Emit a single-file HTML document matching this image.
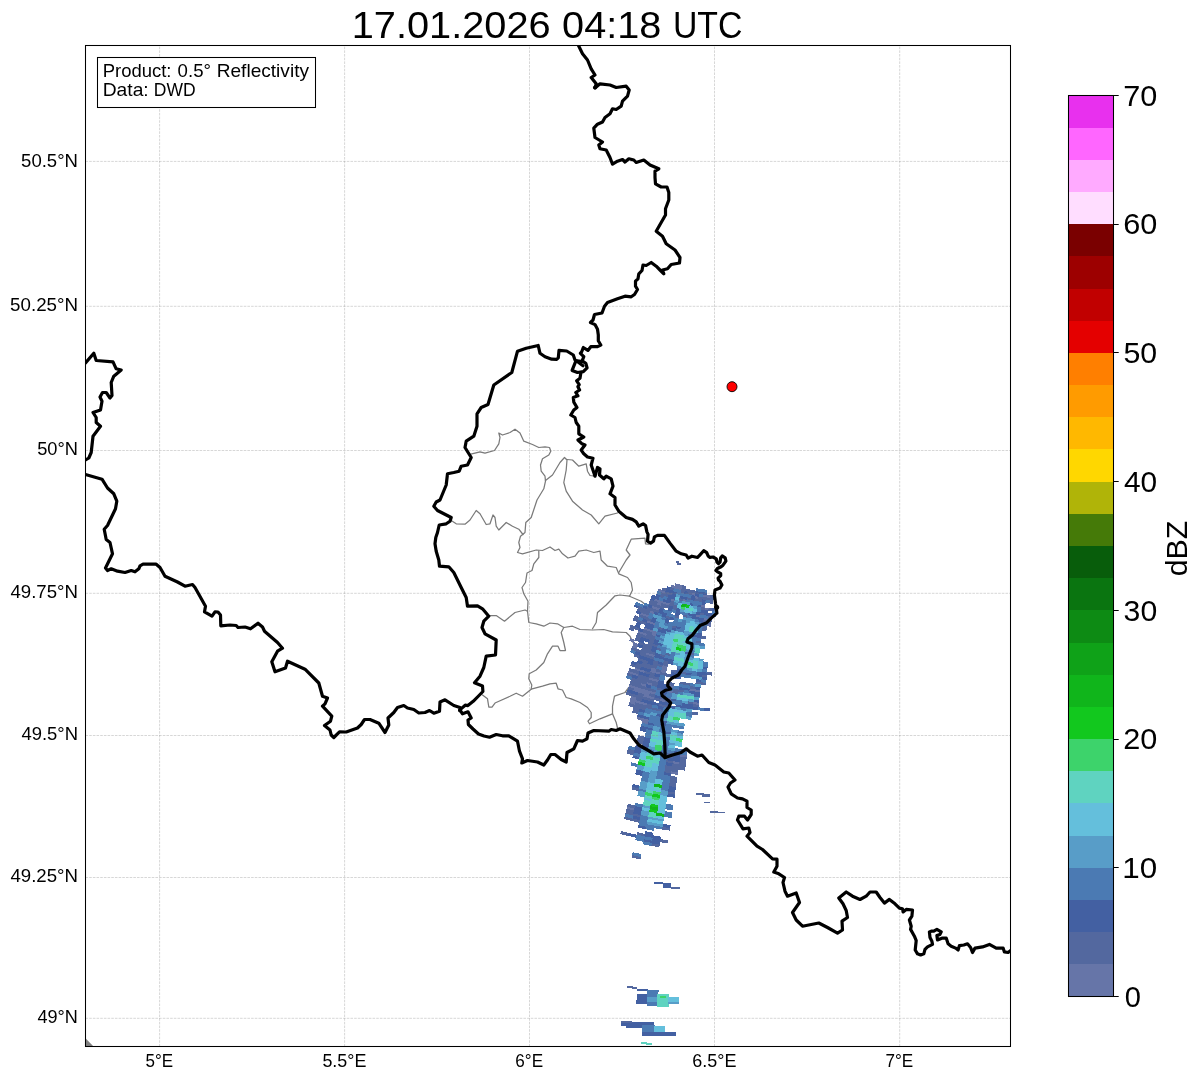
<!DOCTYPE html>
<html><head><meta charset="utf-8"><title>Radar</title>
<style>html,body{margin:0;padding:0;background:#fff;overflow:hidden}svg{display:block;will-change:transform}text{font-family:"Liberation Sans",sans-serif;fill:#000}</style>
</head><body>
<svg width="1202" height="1081" viewBox="0 0 1202 1081">
<rect x="0" y="0" width="1202" height="1081" fill="#fff"/>
<defs><clipPath id="ax"><rect x="85.5" y="45.5" width="925.0" height="1001.0"/></clipPath></defs>
<g clip-path="url(#ax)">
<g fill="none" stroke="#7a7a7a" stroke-width="1.25" stroke-linejoin="round" stroke-linecap="round">
<path d="M470.8,454.2 480.0,451.8 485.0,453.2 494.5,450.5 498.8,443.8 500.0,437.5 498.8,433.0 502.5,435.0 510.0,432.5 515.0,429.2 520.0,433.0 523.8,441.2 532.5,444.5 538.8,447.5 545.0,446.8 549.5,447.5 550.8,451.2 548.8,455.0 542.5,458.8 540.5,465.0 541.2,471.2 545.0,476.2 545.5,481.2 543.8,488.8 537.0,500.0 531.2,517.5 525.8,522.5 525.0,532.5 520.5,536.2 518.8,542.5 520.0,547.5 517.5,552.5 522.5,553.8 536.2,550.0 542.5,550.5 550.0,547.0 555.0,550.5 558.8,549.2 562.5,553.8 568.0,558.0 575.0,556.2 578.8,551.2 586.2,550.0 593.8,552.5 600.0,551.2 601.2,560.0 607.5,566.2 616.2,567.5 618.8,573.8 627.5,577.5 631.2,582.5 632.5,590.0 629.5,596.2 620.0,595.0 615.0,595.8 606.2,605.0 597.5,612.5 596.2,622.5 592.5,628.8"/>
<path d="M629.5,596.2 641.2,601.2 647.5,606.2 651.0,611.0"/>
<path d="M545.5,480.5 552.5,475.0 560.0,462.5 564.5,457.5 567.0,460.0 566.2,470.0 563.8,482.5 566.2,491.2 572.5,501.2 582.5,510.0 591.2,515.0 598.8,523.8 605.0,516.2 617.5,513.0"/>
<path d="M567.0,459.5 572.5,460.0 578.8,466.2 586.2,463.8 587.5,471.2 590.0,475.5 595.0,476.2"/>
<path d="M451.2,520.5 456.2,523.8 465.0,524.2 470.0,520.0 476.2,510.5 480.0,513.8 486.2,524.5 490.0,523.8 493.0,515.0 495.0,517.5 496.2,526.2 498.8,530.0 506.2,522.5 512.5,526.2 518.8,529.2 523.0,534.5"/>
<path d="M618.8,572.5 626.2,560.0 630.0,555.0 626.2,550.0 631.2,539.2 645.0,538.2 645.5,543.8 648.8,544.2"/>
<path d="M538.8,550.8 538.8,557.5 533.8,563.8 532.0,570.5 527.0,573.0 525.5,582.5 522.0,587.5 523.8,593.8 528.0,601.2 527.5,611.2 528.8,622.5 536.2,623.8 543.8,626.2 550.0,623.0 557.5,623.8 563.8,627.5 572.5,626.2 580.0,629.5 592.5,630.0 603.8,629.5 612.5,631.8 626.2,632.5 630.0,636.2 633.0,642.5"/>
<path d="M488.8,615.5 496.2,615.5 504.5,621.2 515.0,612.5 525.0,610.0 527.5,611.2"/>
<path d="M563.8,627.5 561.2,632.5 563.8,642.5 565.5,650.5 560.0,650.5 558.0,646.2 552.5,646.2 547.5,653.8 543.8,662.5 536.2,670.0 529.2,673.8 528.8,678.8 531.8,685.0 531.2,689.2"/>
<path d="M482.5,695.0 487.5,698.8 488.8,707.0 492.0,707.0 495.0,703.0 510.0,696.2 516.2,693.2 522.5,696.2 531.2,689.2 542.5,686.2 550.0,683.8 556.2,683.2 558.0,688.8 562.5,690.0 566.2,697.5 571.2,698.8 580.0,702.5 587.5,707.5 591.2,712.5 591.2,717.5 588.0,721.2 589.5,723.8 600.0,718.8 612.5,713.8"/>
<path d="M617.5,728.0 616.2,722.5 612.5,713.8 612.5,706.2 614.5,696.2 625.0,692.5 628.8,687.5"/>
</g>
<path d="M85.5,1038.3 L93.3,1046.2 L85.5,1046.2Z" fill="#808080"/>
<g shape-rendering="crispEdges">
<path fill="#6675a8" d="M711.9 618.6L707.5 618.2L707.2 621.2L711.6 621.6ZM711.4 623.7L707.0 623.3L706.7 626.3L711.1 626.7ZM710.2 595.3L706.3 594.8L705.9 597.9L709.9 598.3ZM708.9 608.0L704.8 607.5L704.4 610.6L708.6 611.1ZM707.8 618.2L703.5 617.7L703.1 620.7L707.5 621.2ZM700.4 689.5L694.7 688.8L694.3 691.9L700.0 692.5ZM699.0 702.2L693.2 701.6L692.8 704.6L698.7 705.3ZM706.6 594.9L702.7 594.4L702.3 597.4L706.2 597.9ZM705.3 605.0L701.3 604.5L700.8 607.5L705.0 608.1ZM695.1 688.9L689.5 688.2L689.0 691.2L694.7 691.9ZM687.0 755.0L680.2 754.1L679.7 757.1L686.6 758.0ZM700.1 614.7L695.9 614.0L695.4 617.1L699.7 617.7ZM679.5 761.7L672.5 760.7L672.1 763.7L679.1 764.8ZM678.1 771.9L670.9 770.8L670.5 773.8L677.7 774.9ZM698.9 596.4L695.0 595.7L694.5 598.7L698.4 599.4ZM695.7 593.3L691.9 592.5L691.3 595.5L695.2 596.3ZM674.1 685.6L668.5 684.5L667.9 687.4L673.5 688.6ZM673.1 690.6L667.5 689.5L666.8 692.5L672.5 693.6ZM671.7 698.1L665.9 697.0L665.2 700.0L671.1 701.2ZM686.9 599.4L683.0 598.5L682.3 601.5L686.3 602.4ZM665.7 699.6L659.9 698.3L659.2 701.2L665.1 702.5ZM667.7 665.9L662.5 664.7L660.5 672.6L665.9 673.9ZM635.0 808.1L627.1 806.2L626.4 809.2L634.3 811.1ZM682.6 585.3L678.9 584.3L677.5 589.7L681.3 590.7ZM661.0 672.2L655.7 670.8L654.9 673.8L660.3 675.2ZM659.2 679.7L653.7 678.2L652.9 681.2L658.4 682.6ZM656.1 692.1L650.4 690.6L649.6 693.6L655.3 695.0ZM654.8 697.0L649.1 695.6L648.3 698.5L654.1 700.0ZM649.3 719.4L643.1 717.8L641.6 723.2L647.9 724.9ZM679.2 584.4L675.5 583.3L673.9 588.7L677.7 589.8ZM675.2 599.2L671.3 598.1L670.4 601.0L674.4 602.2ZM656.7 668.4L651.5 667.0L649.9 672.4L655.2 673.9ZM654.1 678.3L648.6 676.8L647.8 679.8L653.3 681.3ZM652.7 683.3L647.2 681.8L646.4 684.7L651.9 686.2ZM650.8 690.7L645.1 689.1L642.8 697.0L648.6 698.6ZM647.4 703.1L641.6 701.4L640.7 704.4L646.7 706.0ZM643.5 717.9L637.3 716.2L636.5 719.1L642.7 720.9ZM675.0 585.9L671.3 584.8L670.4 587.7L674.2 588.8ZM670.1 603.1L666.1 601.9L665.2 604.8L669.3 606.0ZM655.3 654.8L650.3 653.3L649.4 656.2L654.5 657.7ZM646.9 684.3L641.3 682.7L640.4 685.6L646.0 687.3ZM645.5 689.2L639.8 687.6L638.2 693.0L643.9 694.6ZM641.9 701.6L636.1 699.8L635.2 702.7L641.1 704.5ZM666.3 602.0L662.3 600.7L661.4 603.6L665.4 604.9ZM657.4 631.4L652.8 629.9L651.1 635.3L655.7 636.7ZM650.6 653.4L645.7 651.8L644.7 654.8L649.8 656.3ZM645.4 670.5L640.1 668.9L639.2 671.8L644.5 673.5ZM640.2 687.7L634.6 685.9L632.9 691.3L638.6 693.1ZM637.2 697.5L631.4 695.7L628.9 703.4L634.8 705.3ZM665.7 591.1L661.9 589.8L661.0 592.7L664.8 594.0ZM662.6 600.8L658.6 599.5L656.8 604.8L660.9 606.2ZM660.2 608.1L656.1 606.7L655.1 609.6L659.3 611.0ZM655.5 622.7L651.1 621.3L650.1 624.1L654.5 625.6ZM653.1 630.0L648.6 628.5L647.6 631.4L652.2 632.9ZM640.5 669.0L635.2 667.2L634.2 670.1L639.5 671.9ZM638.9 673.9L633.6 672.1L632.6 675.0L638.0 676.8ZM635.0 686.0L629.4 684.2L628.4 687.1L634.0 688.9ZM662.2 589.9L658.4 588.5L657.4 591.4L661.2 592.8ZM658.9 599.6L654.9 598.2L653.9 601.0L657.9 602.5ZM656.4 606.8L652.3 605.4L651.2 608.3L655.4 609.7ZM654.7 611.7L650.5 610.2L649.5 613.1L653.7 614.6ZM651.4 621.4L647.0 619.8L646.0 622.7L650.4 624.2ZM648.9 628.6L644.4 627.0L643.3 629.9L647.9 631.5ZM647.2 633.5L642.6 631.8L641.6 634.7L646.2 636.4ZM633.9 672.2L628.6 670.3L627.5 673.2L632.9 675.1ZM649.0 615.1L644.8 613.5L643.7 616.4L648.0 618.0ZM642.9 631.9L638.4 630.2L637.3 633.1L641.9 634.8ZM638.6 644.0L633.8 642.2L631.8 647.4L636.6 649.3ZM645.1 613.6L640.9 612.0L639.7 614.8L644.0 616.5ZM635.0 639.9L630.3 638.1L629.1 640.9L633.9 642.8Z"/>
<path fill="#53689f" d="M712.2 672.5L706.9 672.1L706.6 675.2L712.0 675.6ZM713.9 595.6L710.0 595.3L709.1 603.4L713.1 603.8ZM712.7 608.4L708.6 608.0L708.3 611.0L712.5 611.4ZM712.1 616.0L707.8 615.6L707.5 618.7L711.8 619.1ZM711.6 621.1L707.3 620.7L706.9 623.8L711.4 624.2ZM707.0 674.7L701.6 674.2L701.3 677.2L706.7 677.7ZM706.3 682.3L700.8 681.8L700.5 684.9L706.1 685.4ZM709.9 597.8L706.0 597.4L705.6 600.4L709.6 600.9ZM707.5 620.7L703.2 620.2L702.8 623.3L707.2 623.8ZM707.0 625.8L702.6 625.3L701.9 630.9L706.4 631.4ZM706.0 636.0L701.3 635.5L700.9 638.5L705.6 639.1ZM701.2 681.9L695.7 681.2L695.3 684.3L700.8 684.9ZM698.8 704.8L692.8 704.1L692.5 707.1L698.4 707.8ZM698.0 712.4L691.9 711.7L691.5 714.8L697.7 715.5ZM706.3 597.4L702.3 596.9L701.9 599.9L705.9 600.5ZM705.0 607.6L700.9 607.0L700.5 610.1L704.6 610.6ZM704.4 612.7L700.2 612.1L699.8 615.1L704.0 615.7ZM701.0 640.6L696.3 640.0L695.8 643.0L700.6 643.6ZM695.4 686.4L689.8 685.6L689.4 688.6L695.0 689.4ZM693.5 701.6L687.7 700.8L687.2 703.9L693.2 704.6ZM687.6 749.9L680.9 749.0L680.4 752.0L687.3 752.9ZM686.7 757.5L679.8 756.6L677.9 769.8L685.1 770.7ZM702.6 596.9L698.7 596.3L697.8 601.9L701.8 602.5ZM694.8 652.7L689.8 652.0L689.3 655.0L694.4 655.7ZM690.5 683.1L685.0 682.3L684.5 685.3L690.1 686.2ZM679.2 764.3L672.1 763.2L670.9 771.3L678.0 772.4ZM677.4 776.9L670.1 775.9L668.4 786.5L675.9 787.6ZM675.3 792.2L667.7 791.0L667.2 794.0L674.8 795.2ZM670.3 827.6L662.1 826.4L661.6 829.4L669.9 830.7ZM668.5 840.3L660.1 839.1L659.6 842.1L668.1 843.4ZM698.5 598.9L694.6 598.3L694.0 601.3L698.0 601.9ZM687.0 672.2L681.6 671.4L681.1 674.4L686.5 675.3ZM685.4 682.4L679.9 681.4L679.3 684.5L684.9 685.4ZM684.2 689.9L678.5 689.0L678.0 692.0L683.7 693.0ZM674.2 753.2L667.4 752.0L666.4 757.6L673.3 758.7ZM673.0 760.8L666.0 759.6L665.5 762.6L672.5 763.8ZM672.2 765.8L665.1 764.6L663.7 772.7L670.9 773.9ZM659.8 844.2L651.3 842.8L650.8 845.8L659.4 847.2ZM696.2 590.7L692.4 590.0L691.8 593.0L695.6 593.7ZM678.9 689.1L673.3 688.0L672.2 693.5L677.9 694.6ZM692.6 590.1L688.8 589.3L687.6 594.8L691.5 595.6ZM691.1 597.6L687.2 596.8L686.6 599.8L690.6 600.6ZM687.7 615.2L683.5 614.3L682.8 617.3L687.2 618.2ZM677.0 670.5L671.7 669.4L671.1 672.4L676.4 673.5ZM674.6 683.1L669.1 681.9L668.4 684.9L674.0 686.1ZM671.2 700.7L665.3 699.5L664.7 702.5L670.6 703.7ZM670.2 705.7L664.3 704.5L663.6 707.5L669.6 708.7ZM645.4 833.9L637.0 832.2L636.4 835.2L644.8 836.9ZM641.0 856.5L632.2 854.7L631.6 857.7L640.4 859.5ZM689.1 589.4L685.3 588.5L684.6 591.5L688.4 592.4ZM671.0 674.5L665.7 673.3L665.0 676.3L670.4 677.5ZM666.8 694.5L661.0 693.3L659.8 698.7L665.6 700.0ZM664.6 704.6L658.7 703.2L658.0 706.2L664.0 707.6ZM663.6 709.6L657.6 708.2L656.9 711.2L663.0 712.6ZM641.3 814.8L633.3 813.0L632.6 816.0L640.7 817.7ZM640.2 819.8L632.2 818.0L631.5 821.0L639.6 822.8ZM686.1 586.1L682.4 585.2L680.4 593.1L684.3 594.1ZM683.2 598.6L679.3 597.6L678.5 600.6L682.5 601.5ZM679.2 616.0L674.9 615.0L674.2 618.0L678.5 619.0ZM676.9 626.0L672.5 624.9L671.7 627.9L676.2 629.0ZM670.6 653.4L665.6 652.3L664.9 655.2L669.9 656.4ZM668.9 660.9L663.8 659.7L662.4 665.2L667.6 666.4ZM666.0 673.4L660.7 672.1L659.9 675.1L665.3 676.4ZM662.6 688.4L656.9 687.0L656.2 690.0L661.9 691.4ZM660.3 698.3L654.5 697.0L653.7 699.9L659.6 701.3ZM658.0 708.3L652.0 706.9L651.2 709.9L657.3 711.3ZM639.6 788.2L632.1 786.4L631.4 789.3L638.9 791.1ZM635.6 805.6L627.8 803.7L627.0 806.7L634.9 808.6ZM634.4 810.6L626.5 808.7L625.2 814.2L633.2 816.1ZM632.7 818.1L624.7 816.2L623.9 819.1L632.0 821.1ZM629.2 833.1L620.9 831.1L620.2 834.0L628.6 836.0ZM677.7 605.1L673.6 604.1L672.2 609.5L676.3 610.6ZM665.3 654.8L660.3 653.5L659.6 656.5L664.6 657.8ZM662.9 664.8L657.7 663.4L656.9 666.4L662.1 667.7ZM661.6 669.7L656.4 668.4L655.6 671.3L660.9 672.7ZM659.8 677.2L654.4 675.8L653.6 678.7L659.0 680.1ZM658.5 682.1L653.0 680.7L651.6 686.1L657.2 687.6ZM656.7 689.6L651.0 688.1L650.3 691.1L655.9 692.6ZM655.4 694.6L649.7 693.1L648.9 696.0L654.7 697.5ZM654.2 699.5L648.4 698.0L647.6 701.0L653.5 702.5ZM653.0 704.5L647.1 703.0L645.6 708.4L651.6 710.0ZM644.9 736.8L638.4 735.1L636.3 743.0L643.0 744.7ZM674.5 601.7L670.6 600.6L669.0 606.0L673.1 607.1ZM670.6 616.5L666.3 615.3L665.5 618.3L669.8 619.5ZM662.0 648.7L657.1 647.3L656.3 650.3L661.2 651.6ZM658.7 661.0L653.6 659.6L651.3 667.5L656.6 668.9ZM655.4 673.4L650.0 671.9L648.5 677.3L653.9 678.8ZM653.4 680.8L647.9 679.3L647.1 682.2L652.6 683.8ZM651.4 688.2L645.8 686.7L645.0 689.6L650.6 691.2ZM648.8 698.1L643.0 696.5L642.1 699.5L648.0 701.1ZM646.8 705.5L640.9 703.9L639.3 709.3L645.3 711.0ZM634.9 750.1L628.1 748.2L626.6 753.6L633.4 755.5ZM674.3 588.3L670.6 587.2L669.7 590.1L673.5 591.3ZM672.9 593.3L669.1 592.1L668.2 595.0L672.1 596.2ZM669.4 605.6L665.3 604.4L664.4 607.3L668.6 608.5ZM663.1 627.7L658.6 626.4L657.7 629.3L662.2 630.7ZM658.1 644.9L653.3 643.5L652.4 646.4L657.3 647.9ZM656.0 652.3L651.1 650.9L650.2 653.8L655.2 655.3ZM654.6 657.2L649.6 655.8L648.7 658.7L653.8 660.2ZM652.5 664.6L647.3 663.1L645.7 668.5L651.0 670.0ZM650.4 672.0L645.1 670.4L644.2 673.4L649.5 675.0ZM649.0 676.9L643.6 675.3L641.2 683.2L646.7 684.8ZM646.2 686.8L640.6 685.1L639.7 688.1L645.3 689.7ZM644.0 694.2L638.3 692.5L635.9 700.3L641.8 702.0ZM641.2 704.0L635.3 702.3L632.2 712.5L638.3 714.3ZM669.3 592.2L665.5 591.0L663.8 596.3L667.7 597.6ZM665.6 604.4L661.5 603.2L659.8 608.5L663.9 609.8ZM655.9 636.3L651.2 634.8L645.5 652.3L650.5 653.9ZM649.9 655.9L644.9 654.3L644.0 657.2L649.0 658.8ZM648.4 660.8L643.3 659.1L640.8 666.9L646.0 668.6ZM643.9 675.4L638.6 673.8L634.4 686.4L640.0 688.2ZM638.0 695.0L632.2 693.2L631.3 696.1L637.1 698.0ZM635.0 704.8L629.0 703.0L628.1 705.9L634.1 707.8ZM666.5 588.6L662.8 587.4L661.8 590.3L665.6 591.5ZM665.0 593.5L661.1 592.2L659.3 597.5L663.2 598.8ZM661.0 605.7L656.9 604.3L655.9 607.2L660.1 608.6ZM659.4 610.5L655.3 609.2L654.3 612.0L658.5 613.5ZM652.3 632.5L647.8 630.9L645.1 638.7L649.8 640.2ZM648.4 644.6L643.6 643.0L639.2 655.6L644.3 657.3ZM643.6 659.3L638.6 657.6L637.6 660.4L642.7 662.2ZM642.1 664.1L636.9 662.4L635.1 667.7L640.3 669.5ZM639.7 671.4L634.4 669.7L633.4 672.5L638.7 674.3ZM637.3 678.7L631.9 676.9L629.2 684.6L634.8 686.5ZM634.2 688.5L628.6 686.6L627.6 689.5L633.2 691.4ZM632.6 693.3L626.9 691.4L625.9 694.3L631.6 696.3ZM658.0 602.0L654.0 600.6L652.1 605.8L656.2 607.3ZM655.5 609.2L651.4 607.8L650.4 610.7L654.5 612.1ZM652.2 618.9L647.9 617.4L646.8 620.3L651.2 621.8ZM648.0 631.0L643.5 629.4L642.5 632.3L647.1 633.9ZM646.4 635.9L641.8 634.2L640.7 637.1L645.4 638.8ZM643.9 643.1L639.1 641.5L638.1 644.3L642.9 646.0ZM641.4 650.4L636.5 648.7L635.4 651.5L640.4 653.3ZM639.7 655.2L634.7 653.5L633.7 656.4L638.7 658.1ZM636.4 664.9L631.2 663.1L630.2 666.0L635.4 667.8ZM634.7 669.8L629.5 667.9L628.4 670.8L633.7 672.7ZM633.1 674.6L627.7 672.7L626.7 675.6L632.1 677.5ZM654.3 600.7L650.3 599.2L648.3 604.4L652.4 605.9ZM651.7 607.9L647.6 606.3L644.6 614.0L648.9 615.6ZM648.2 617.5L643.9 615.9L642.8 618.8L647.1 620.4ZM646.4 622.3L642.0 620.7L640.9 623.5L645.4 625.2ZM642.1 634.3L637.4 632.6L634.5 640.3L639.3 642.0ZM636.8 648.8L631.9 647.0L630.8 649.8L635.8 651.7ZM646.9 608.8L642.8 607.2L640.7 612.4L644.9 614.1ZM644.2 616.0L639.9 614.3L638.7 617.2L643.1 618.9ZM642.3 620.8L638.0 619.1L636.8 621.9L641.2 623.6ZM639.6 628.0L635.1 626.2L633.9 629.0L638.5 630.8ZM643.0 607.3L638.9 605.6L636.7 610.8L640.9 612.5ZM639.2 616.8L634.9 615.0L632.7 620.2L637.1 622.0ZM635.4 626.3L630.9 624.5L628.7 629.6L633.3 631.5Z"/>
<path fill="#4360a2" d="M716.6 608.7L712.5 608.4L712.2 611.4L716.4 611.7ZM709.7 708.3L703.7 707.8L703.4 710.9L709.5 711.3ZM712.3 613.5L708.1 613.1L707.8 616.1L712.0 616.5ZM707.6 667.0L702.4 666.5L702.1 669.6L707.4 670.1ZM707.2 672.1L701.9 671.6L701.6 674.7L706.9 675.2ZM706.8 677.2L701.3 676.7L701.0 679.8L706.5 680.3ZM708.6 610.6L704.4 610.1L703.8 615.7L708.0 616.2ZM702.2 671.7L696.9 671.1L696.2 676.6L701.6 677.3ZM701.4 679.3L696.0 678.7L695.6 681.7L701.1 682.4ZM700.6 686.9L695.0 686.3L694.7 689.3L700.3 690.0ZM700.1 692.0L694.4 691.4L693.7 697.0L699.5 697.6ZM699.3 699.7L693.5 699.0L693.1 702.0L699.0 702.7ZM698.5 707.3L692.5 706.6L692.2 709.7L698.2 710.4ZM706.9 592.3L703.1 591.8L702.6 594.9L706.5 595.4ZM706.0 600.0L702.0 599.4L701.2 605.0L705.3 605.5ZM704.7 610.1L700.5 609.6L700.1 612.6L704.3 613.2ZM703.8 617.7L699.5 617.2L698.7 622.7L703.1 623.3ZM701.9 633.0L697.3 632.4L696.5 637.9L701.2 638.6ZM694.8 691.4L689.1 690.7L688.7 693.7L694.4 694.5ZM693.2 704.1L687.3 703.4L686.5 708.9L692.5 709.7ZM703.3 591.9L699.5 591.3L699.0 594.3L702.9 594.9ZM701.5 604.5L697.5 603.9L697.0 607.0L701.1 607.6ZM700.5 612.1L696.3 611.5L695.8 614.5L700.0 615.2ZM699.8 617.2L695.5 616.6L695.0 619.6L699.3 620.2ZM697.3 635.0L692.6 634.3L692.2 637.3L696.8 638.0ZM691.9 673.0L686.6 672.2L686.1 675.2L691.5 676.0ZM689.8 688.2L684.2 687.4L683.7 690.4L689.4 691.2ZM687.7 703.4L681.8 702.5L680.9 708.1L686.9 709.0ZM680.9 751.6L674.2 750.6L672.5 761.2L679.5 762.2ZM676.0 787.1L668.5 786.0L667.6 791.5L675.2 792.6ZM674.9 794.7L667.3 793.5L666.8 796.6L674.5 797.7ZM670.7 825.1L662.5 823.9L662.0 826.9L670.2 828.1ZM699.7 591.3L695.9 590.7L694.9 596.2L698.8 596.9ZM696.1 614.1L691.9 613.4L690.9 618.9L695.3 619.6ZM690.1 652.0L685.2 651.2L684.7 654.2L689.7 655.0ZM684.6 687.4L679.0 686.5L678.4 689.5L684.1 690.4ZM681.8 705.1L675.8 704.1L675.3 707.1L681.3 708.1ZM673.4 758.2L666.5 757.1L665.9 760.1L672.9 761.2ZM672.6 763.3L665.6 762.1L665.0 765.1L672.1 766.3ZM671.0 773.4L663.8 772.2L663.3 775.2L670.5 776.4ZM661.0 836.6L652.6 835.2L651.2 843.3L659.8 844.7ZM695.3 595.8L691.4 595.1L690.3 600.6L694.3 601.3ZM693.9 603.3L689.9 602.6L689.3 605.6L693.4 606.4ZM692.2 613.4L687.9 612.6L687.4 615.6L691.6 616.4ZM682.4 668.9L677.2 667.9L675.1 678.5L680.6 679.5ZM677.1 699.2L671.3 698.1L670.7 701.1L676.6 702.2ZM675.8 706.7L669.8 705.6L669.2 708.6L675.2 709.7ZM671.3 731.9L664.9 730.7L664.3 733.7L670.8 734.9ZM667.8 752.1L661.0 750.8L660.4 753.8L667.3 755.1ZM653.6 832.8L645.3 831.2L644.2 836.8L652.7 838.3ZM652.3 840.4L643.9 838.8L643.3 841.8L651.8 843.4ZM676.5 673.0L671.2 671.9L670.0 677.4L675.5 678.5ZM670.7 703.2L664.8 702.0L664.2 705.0L670.1 706.2ZM667.3 720.8L661.1 719.5L659.9 725.0L666.2 726.3ZM646.8 826.3L638.6 824.7L638.0 827.7L646.2 829.3ZM688.5 591.9L684.7 591.0L684.0 594.0L687.9 594.9ZM687.5 596.9L683.6 596.0L682.9 599.0L686.8 599.9ZM681.1 626.9L676.6 625.9L675.9 628.9L680.5 629.9ZM674.2 659.5L669.1 658.4L667.9 663.8L673.0 665.0ZM668.9 684.5L663.3 683.3L660.9 693.8L666.7 695.0ZM665.2 702.1L659.3 700.8L658.6 703.7L664.5 705.1ZM664.1 707.1L658.2 705.7L657.5 708.7L663.5 710.1ZM662.5 714.6L656.4 713.2L655.7 716.2L661.9 717.6ZM642.9 807.2L635.1 805.5L633.2 813.5L641.2 815.2ZM640.8 817.3L632.7 815.5L632.1 818.5L640.1 820.3ZM637.0 834.8L628.7 832.9L628.0 835.9L636.4 837.8ZM683.8 596.1L679.9 595.1L679.2 598.1L683.1 599.0ZM680.9 608.5L676.8 607.5L674.8 615.5L679.1 616.5ZM676.3 628.5L671.8 627.4L671.1 630.4L675.7 631.5ZM669.4 658.4L664.4 657.2L663.7 660.2L668.8 661.4ZM664.3 680.9L658.8 679.6L656.8 687.5L662.4 688.9ZM660.8 695.9L655.1 694.5L654.3 697.4L660.1 698.8ZM659.1 703.3L653.2 701.9L652.5 704.9L658.4 706.3ZM654.5 723.3L648.3 721.8L647.5 724.8L653.8 726.3ZM653.4 728.3L647.0 726.8L646.3 729.7L652.7 731.3ZM651.1 738.3L644.5 736.7L641.3 749.6L648.1 751.2ZM643.6 770.7L636.5 769.0L635.1 774.4L642.3 776.2ZM640.2 785.7L632.7 783.9L632.0 786.8L639.5 788.6ZM674.6 617.5L670.3 616.4L669.5 619.4L673.9 620.5ZM671.5 630.0L667.0 628.8L666.2 631.8L670.8 632.9ZM664.7 657.3L659.7 656.0L658.9 659.0L664.0 660.3ZM663.5 662.3L658.4 660.9L657.6 663.9L662.7 665.2ZM660.4 674.7L655.0 673.3L654.2 676.3L659.7 677.7ZM653.6 702.0L647.7 700.5L646.9 703.5L652.9 705.0ZM649.9 716.9L643.7 715.3L643.0 718.3L649.2 719.9ZM647.4 726.9L641.1 725.2L639.6 730.7L646.1 732.3ZM642.5 746.7L635.8 745.0L633.7 752.9L640.5 754.7ZM640.0 756.7L633.1 754.9L632.3 757.8L639.3 759.6ZM677.2 591.8L673.4 590.7L671.1 598.6L675.1 599.7ZM673.2 606.6L669.1 605.5L667.6 610.9L671.8 612.0ZM669.9 619.0L665.6 617.8L664.0 623.2L668.5 624.4ZM667.3 628.9L662.8 627.6L661.2 633.0L665.8 634.3ZM663.3 643.7L658.5 642.4L657.7 645.3L662.5 646.7ZM660.7 653.6L655.7 652.2L654.1 657.6L659.2 659.0ZM652.1 685.8L646.5 684.2L645.7 687.2L651.3 688.7ZM648.1 700.6L642.3 699.0L641.4 701.9L647.3 703.6ZM645.5 710.5L639.4 708.8L638.6 711.8L644.7 713.4ZM644.1 715.4L638.0 713.7L637.2 716.7L643.3 718.4ZM673.6 590.8L669.8 589.7L668.9 592.6L672.8 593.7ZM672.2 595.7L668.3 594.6L665.9 602.4L670.0 603.6ZM667.3 612.9L663.1 611.7L661.4 617.1L665.7 618.3ZM662.4 630.2L657.8 628.8L656.9 631.8L661.5 633.1ZM660.9 635.1L656.3 633.7L655.4 636.7L660.1 638.0ZM659.5 640.0L654.8 638.6L653.2 644.0L658.0 645.4ZM657.4 647.4L652.6 646.0L650.9 651.3L655.9 652.8ZM653.9 659.7L648.8 658.2L647.2 663.6L652.4 665.1ZM651.1 669.6L645.8 668.0L644.9 670.9L650.2 672.5ZM649.7 674.5L644.3 672.9L643.4 675.8L648.8 677.4ZM670.8 587.3L667.1 586.1L665.3 591.5L669.2 592.7ZM667.1 599.5L663.1 598.3L662.2 601.2L666.2 602.5ZM664.1 609.3L660.0 608.0L658.2 613.4L662.5 614.7ZM649.2 658.3L644.1 656.7L643.2 659.6L648.3 661.2ZM646.2 668.1L640.9 666.4L640.0 669.4L645.3 671.0ZM644.7 673.0L639.3 671.3L638.4 674.2L643.8 675.9ZM638.7 692.6L633.0 690.8L632.1 693.7L637.8 695.5ZM658.6 613.0L654.4 611.6L653.4 614.5L657.7 615.9ZM657.1 617.9L652.8 616.4L650.9 621.7L655.3 623.2ZM654.7 625.2L650.3 623.7L648.4 629.0L653.0 630.5ZM650.0 639.8L645.3 638.2L644.3 641.1L649.0 642.7ZM644.4 656.8L639.4 655.1L638.4 658.0L643.5 659.7ZM642.8 661.7L637.7 660.0L636.7 662.9L641.9 664.6ZM638.1 676.3L632.7 674.5L631.7 677.4L637.2 679.2ZM633.4 690.9L627.7 689.0L626.7 691.9L632.4 693.8ZM660.5 594.7L656.7 593.4L654.7 598.6L658.7 600.0ZM650.5 623.8L646.1 622.2L644.2 627.5L648.7 629.1ZM645.6 638.3L640.9 636.6L639.0 641.9L643.7 643.6ZM643.1 645.6L638.2 643.9L637.2 646.7L642.1 648.5ZM640.6 652.8L635.6 651.1L634.6 653.9L639.6 655.7ZM637.2 662.5L632.1 660.7L631.1 663.6L636.2 665.4ZM656.0 595.8L652.1 594.4L650.1 599.6L654.1 601.1ZM652.5 605.5L648.5 604.0L647.4 606.8L651.5 608.3ZM647.3 619.9L643.0 618.3L641.9 621.1L646.3 622.8ZM643.8 629.5L639.3 627.8L638.2 630.7L642.8 632.4ZM647.8 606.4L643.7 604.8L642.6 607.7L646.7 609.3ZM641.4 623.2L637.0 621.4L634.9 626.7L639.4 628.4ZM641.1 612.1L636.9 610.3L635.7 613.1L640.0 614.9ZM639.2 605.7L635.1 604.0L633.9 606.8L638.0 608.5Z"/>
<path fill="#4b7ab3" d="M716.4 611.2L712.3 610.9L711.8 616.5L716.0 616.8ZM708.1 661.9L703.0 661.4L702.4 667.0L707.6 667.5ZM707.4 669.6L702.2 669.1L701.8 672.1L707.2 672.6ZM706.5 679.8L701.1 679.3L700.8 682.3L706.3 682.8ZM704.1 707.9L698.1 707.3L697.8 710.3L703.8 710.9ZM709.7 600.4L705.7 599.9L705.3 603.0L709.4 603.4ZM708.1 615.7L703.8 615.2L703.4 618.2L707.8 618.7ZM707.3 623.3L702.9 622.8L702.5 625.8L707.0 626.3ZM705.2 643.7L700.4 643.1L700.0 646.2L704.8 646.7ZM707.2 589.8L703.4 589.3L703.0 592.3L706.8 592.8ZM704.1 615.2L699.8 614.6L699.4 617.7L703.7 618.2ZM703.2 622.8L698.8 622.2L697.3 632.9L701.9 633.5ZM701.3 638.1L696.6 637.5L696.2 640.5L700.9 641.1ZM700.7 643.2L695.9 642.5L695.5 645.6L700.3 646.2ZM697.3 671.1L692.0 670.4L691.2 676.0L696.6 676.7ZM695.7 683.8L690.2 683.1L689.7 686.1L695.3 686.8ZM692.3 711.8L686.2 711.0L685.5 716.5L691.6 717.3ZM687.3 752.4L680.5 751.5L680.1 754.6L687.0 755.5ZM703.7 589.3L699.9 588.8L699.4 591.8L703.2 592.4ZM702.9 594.4L699.1 593.8L698.6 596.8L702.5 597.4ZM701.9 602.0L697.9 601.4L697.4 604.4L701.5 605.0ZM701.2 607.1L697.1 606.5L696.2 612.0L700.4 612.6ZM699.4 619.7L695.1 619.1L694.6 622.1L699.0 622.8ZM697.6 632.4L693.0 631.7L692.6 634.8L697.2 635.5ZM696.9 637.5L692.2 636.8L691.0 644.9L695.8 645.6ZM695.1 650.2L690.2 649.4L689.8 652.5L694.7 653.2ZM694.4 655.2L689.4 654.5L688.9 657.5L694.0 658.3ZM692.3 670.5L687.0 669.7L686.5 672.7L691.9 673.5ZM691.6 675.5L686.2 674.7L685.7 677.7L691.2 678.6ZM690.2 685.7L684.6 684.8L684.1 687.9L689.7 688.7ZM689.5 690.7L683.8 689.9L683.3 692.9L689.0 693.8ZM687.0 708.5L681.0 707.6L680.5 710.6L686.6 711.5ZM684.5 726.2L678.2 725.3L677.7 728.3L684.1 729.3ZM683.8 731.3L677.4 730.3L676.9 733.4L683.4 734.3ZM681.3 749.1L674.6 748.0L674.1 751.1L680.9 752.1ZM673.5 804.8L665.7 803.7L664.8 809.2L672.7 810.4ZM672.4 812.4L664.5 811.2L663.6 816.8L671.7 818.0ZM700.1 588.8L696.4 588.2L695.8 591.2L699.6 591.8ZM698.1 601.4L694.1 600.8L693.1 606.3L697.3 607.0ZM692.9 634.3L688.3 633.5L687.8 636.6L692.5 637.3ZM687.8 667.2L682.5 666.3L681.6 671.9L686.9 672.7ZM686.6 674.8L681.2 673.9L680.7 676.9L686.1 677.8ZM685.0 684.9L679.4 684.0L678.9 687.0L684.5 687.9ZM683.8 692.5L678.1 691.5L677.5 694.5L683.3 695.5ZM682.6 700.1L676.7 699.1L675.8 704.6L681.7 705.6ZM678.6 725.4L672.3 724.3L671.7 727.3L678.1 728.4ZM674.6 750.6L667.8 749.5L667.3 752.5L674.1 753.7ZM670.6 775.9L663.4 774.7L660.6 790.3L668.1 791.6ZM662.6 826.5L654.4 825.1L653.9 828.1L662.1 829.5ZM694.4 600.8L690.4 600.1L689.8 603.1L693.9 603.8ZM691.7 615.9L687.5 615.2L686.9 618.2L691.2 619.0ZM682.9 666.4L677.7 665.4L677.1 668.4L682.3 669.4ZM679.3 686.5L673.7 685.5L673.2 688.5L678.8 689.6ZM676.7 701.7L670.8 700.6L670.2 703.6L676.1 704.7ZM672.7 724.4L666.4 723.2L664.8 731.2L671.3 732.4ZM670.5 737.0L663.9 735.8L660.9 751.3L667.7 752.6ZM667.4 754.6L660.5 753.4L655.5 779.0L662.8 780.3ZM655.0 825.2L646.8 823.7L645.7 829.2L654.0 830.8ZM652.7 837.8L644.3 836.3L643.8 839.3L652.2 840.8ZM651.9 842.9L643.4 841.3L642.8 844.3L651.3 845.9ZM691.6 595.1L687.8 594.3L687.1 597.3L691.0 598.1ZM690.7 600.1L686.7 599.3L686.0 602.3L690.1 603.1ZM688.2 612.7L684.0 611.8L683.4 614.8L687.6 615.7ZM686.8 620.2L682.4 619.4L679.6 632.4L684.2 633.3ZM673.6 688.1L668.0 687.0L667.4 689.9L673.0 691.1ZM672.6 693.1L666.9 692.0L665.8 697.5L671.6 698.6ZM669.7 708.2L663.7 707.0L661.5 717.5L667.7 718.7ZM666.3 725.8L660.0 724.5L658.3 732.5L664.8 733.8ZM648.8 816.3L640.8 814.6L638.5 825.1L646.7 826.8ZM644.9 836.4L636.5 834.7L635.3 840.2L643.8 841.9ZM641.5 854.0L632.8 852.2L632.1 855.2L640.9 857.0ZM688.0 594.4L684.1 593.5L683.4 596.5L687.4 597.4ZM684.3 611.9L680.1 611.0L679.4 614.0L683.6 614.9ZM682.2 621.9L677.8 620.9L676.5 626.4L681.0 627.4ZM680.6 629.4L676.1 628.4L675.4 631.4L679.9 632.4ZM675.8 652.0L670.9 650.9L669.0 658.8L674.1 660.0ZM663.1 712.1L657.0 710.7L656.3 713.7L662.4 715.1ZM662.0 717.1L655.8 715.7L653.4 726.2L659.8 727.6ZM655.1 749.6L648.3 748.1L647.6 751.1L654.5 752.6ZM650.3 772.2L643.1 770.6L640.7 781.1L648.1 782.7ZM646.6 789.7L639.1 788.0L638.4 791.0L646.0 792.7ZM643.4 804.7L635.6 803.0L634.9 806.0L642.8 807.7ZM684.4 593.6L680.5 592.6L679.8 595.6L683.7 596.6ZM682.7 601.1L678.7 600.1L677.9 603.1L682.0 604.0ZM678.6 618.5L674.3 617.5L672.3 625.4L676.8 626.5ZM670.0 655.9L665.0 654.7L664.3 657.7L669.3 658.9ZM665.4 675.9L660.0 674.6L658.7 680.1L664.2 681.4ZM662.0 690.9L656.3 689.5L655.0 695.0L660.7 696.3ZM658.5 705.8L652.6 704.4L651.9 707.4L657.8 708.8ZM657.4 710.8L651.4 709.4L650.6 712.3L656.7 713.8ZM656.2 715.8L650.1 714.3L648.1 722.3L654.4 723.8ZM653.9 725.8L647.6 724.3L646.9 727.2L653.3 728.8ZM652.8 730.8L646.4 729.2L644.4 737.2L651.0 738.8ZM633.3 815.6L625.3 813.7L624.5 816.7L632.6 818.6ZM681.4 590.2L677.6 589.2L676.2 594.7L680.0 595.7ZM678.3 602.6L674.3 601.6L673.5 604.6L677.6 605.6ZM676.5 610.1L672.3 609.0L671.5 612.0L675.7 613.1ZM675.2 615.1L671.0 614.0L670.2 616.9L674.5 618.0ZM673.4 622.5L669.0 621.4L666.9 629.3L671.4 630.5ZM667.2 647.4L662.3 646.1L660.2 654.0L665.2 655.3ZM664.1 659.8L659.0 658.5L658.2 661.4L663.4 662.8ZM662.2 667.2L657.0 665.9L656.2 668.8L661.5 670.2ZM657.3 687.1L651.7 685.7L650.9 688.6L656.6 690.1ZM651.7 709.5L645.7 707.9L644.3 713.3L650.4 714.9ZM648.0 724.4L641.8 722.8L641.0 725.7L647.3 727.3ZM640.6 754.2L633.8 752.4L633.0 755.4L639.9 757.2ZM638.2 764.1L631.1 762.3L630.3 765.3L637.4 767.1ZM677.9 589.3L674.1 588.3L673.2 591.2L677.1 592.3ZM671.9 611.6L667.7 610.4L666.2 615.8L670.5 617.0ZM668.6 623.9L664.2 622.7L663.3 625.6L667.8 626.9ZM666.0 633.8L661.4 632.6L660.5 635.5L665.2 636.8ZM664.6 638.8L659.9 637.5L659.1 640.4L663.8 641.7ZM662.6 646.2L657.8 644.9L657.0 647.8L661.9 649.1ZM659.3 658.6L654.3 657.2L653.4 660.1L658.6 661.5ZM644.8 713.0L638.7 711.3L637.9 714.2L644.0 715.9ZM635.5 747.6L628.8 745.7L628.0 748.7L634.8 750.5ZM668.0 610.5L663.8 609.3L662.9 612.2L667.1 613.4ZM665.9 617.9L661.6 616.6L660.7 619.5L665.0 620.8ZM661.7 632.6L657.1 631.3L656.2 634.2L660.8 635.6ZM660.2 637.6L655.6 636.2L654.7 639.1L659.4 640.5ZM667.8 597.1L663.9 595.9L663.0 598.8L666.9 600.0ZM662.6 614.2L658.4 612.9L657.4 615.8L661.7 617.2ZM660.4 621.6L656.0 620.2L653.5 628.0L658.0 629.4ZM663.4 598.4L659.4 597.1L658.4 599.9L662.4 601.3ZM661.4 592.3L657.5 590.9L656.5 593.8L660.4 595.2ZM653.9 614.1L649.6 612.6L647.7 617.9L652.0 619.4ZM632.2 677.0L626.8 675.1L625.8 678.0L631.2 679.9ZM635.9 651.2L631.0 649.4L629.9 652.2L634.9 654.1ZM648.7 604.1L644.7 602.5L643.5 605.3L647.6 606.9ZM643.2 618.4L638.9 616.7L637.8 619.5L642.1 621.3ZM644.0 604.9L639.9 603.3L638.7 606.1L642.9 607.8ZM640.2 603.4L636.2 601.6L634.9 604.4L639.0 606.2Z"/>
<path fill="#589dc8" d="M704.9 646.2L700.1 645.7L699.7 648.7L704.6 649.3ZM703.6 658.9L698.5 658.4L698.1 661.4L703.2 662.0ZM702.5 669.1L697.2 668.5L696.9 671.6L702.2 672.2ZM701.7 676.8L696.3 676.1L695.9 679.2L701.4 679.8ZM700.9 684.4L695.3 683.8L695.0 686.8L700.6 687.4ZM699.6 697.1L693.8 696.5L693.4 699.5L699.2 700.2ZM699.4 653.3L694.5 652.7L694.0 655.7L699.1 656.4ZM696.6 676.2L691.2 675.5L690.8 678.5L696.3 679.2ZM694.5 694.0L688.7 693.2L688.3 696.3L694.1 697.0ZM693.8 699.1L688.0 698.3L687.6 701.3L693.5 702.1ZM692.6 709.2L686.6 708.4L686.2 711.5L692.2 712.3ZM691.7 716.8L685.5 716.0L685.1 719.1L691.3 719.9ZM699.0 622.3L694.7 621.6L694.2 624.7L698.6 625.3ZM695.8 645.1L691.0 644.4L690.2 649.9L695.1 650.7ZM694.1 657.8L689.0 657.0L688.5 660.0L693.7 660.8ZM692.7 667.9L687.4 667.1L686.9 670.2L692.2 671.0ZM689.1 693.3L683.4 692.4L682.9 695.4L688.7 696.3ZM688.0 700.9L682.2 700.0L681.7 703.0L687.6 703.9ZM684.9 723.7L678.6 722.8L678.1 725.8L684.4 726.7ZM683.4 733.8L677.0 732.9L676.5 735.9L683.0 736.9ZM697.3 606.5L693.2 605.8L692.7 608.8L696.9 609.5ZM696.5 611.6L692.3 610.9L691.8 613.9L696.1 614.6ZM695.3 619.1L691.0 618.4L690.5 621.4L694.9 622.2ZM693.3 631.8L688.8 631.0L688.2 634.0L692.9 634.8ZM692.5 636.8L687.9 636.1L687.4 639.1L692.1 639.9ZM691.7 641.9L687.0 641.1L686.5 644.1L691.3 644.9ZM690.5 649.5L685.7 648.7L685.1 651.7L690.1 652.5ZM689.7 654.5L684.8 653.7L682.4 666.8L687.7 667.7ZM681.4 707.7L675.4 706.7L674.9 709.7L680.9 710.7ZM679.0 722.8L672.7 721.8L672.2 724.8L678.5 725.8ZM677.8 730.4L671.4 729.3L670.8 732.4L677.3 733.4ZM675.8 743.1L669.2 741.9L668.6 745.0L675.3 746.1ZM675.0 748.1L668.3 747.0L667.7 750.0L674.5 751.1ZM668.2 791.1L660.7 789.8L659.7 795.4L667.3 796.6ZM663.8 818.9L655.8 817.6L655.2 820.6L663.3 821.9ZM663.0 824.0L654.9 822.6L654.3 825.6L662.5 827.0ZM691.3 618.5L687.0 617.7L685.9 623.2L690.3 624.0ZM689.1 631.1L684.5 630.2L683.4 635.7L688.1 636.6ZM678.0 694.1L672.3 693.1L671.2 698.6L677.0 699.6ZM673.1 721.8L666.9 720.7L666.3 723.7L672.6 724.9ZM670.9 734.5L664.4 733.3L663.8 736.3L670.4 737.5ZM656.3 817.7L648.3 816.2L647.7 819.2L655.8 820.7ZM655.4 822.7L647.3 821.2L646.7 824.2L654.9 825.7ZM690.2 602.6L686.1 601.8L685.5 604.8L689.6 605.6ZM687.2 617.7L682.9 616.8L682.3 619.8L686.7 620.7ZM680.4 652.9L675.5 651.9L674.8 654.9L679.8 655.9ZM678.5 663.0L673.3 661.9L672.7 664.9L677.9 666.0ZM667.8 718.3L661.6 717.0L661.0 720.0L667.2 721.3ZM661.4 750.9L654.7 749.5L654.0 752.5L660.9 753.9ZM657.5 771.0L650.4 769.6L647.6 782.6L655.0 784.1ZM650.7 806.2L642.9 804.6L642.3 807.6L650.1 809.2ZM649.8 811.2L641.8 809.6L640.7 815.1L648.7 816.8ZM686.4 601.9L682.4 601.0L681.7 604.0L685.8 604.9ZM684.8 609.4L680.7 608.5L680.0 611.5L684.2 612.4ZM682.7 619.4L678.4 618.5L677.7 621.4L682.1 622.4ZM659.9 727.1L653.5 725.7L652.3 731.2L658.7 732.6ZM655.6 747.1L648.9 745.6L648.2 748.6L655.0 750.1ZM648.2 782.2L640.8 780.6L639.0 788.5L646.5 790.2ZM646.1 792.2L638.5 790.5L637.3 796.0L644.9 797.7ZM675.8 631.0L671.2 629.9L670.5 632.9L675.1 634.0ZM671.7 648.5L666.9 647.3L666.1 650.3L671.1 651.4ZM656.8 713.3L650.7 711.9L650.0 714.8L656.1 716.3ZM648.2 750.7L641.4 749.1L640.7 752.1L647.5 753.7ZM644.8 765.7L637.7 764.0L636.3 769.5L643.5 771.2ZM680.2 595.2L676.3 594.2L675.5 597.1L679.4 598.2ZM678.9 600.2L675.0 599.1L674.2 602.1L678.2 603.1ZM670.9 632.5L666.3 631.3L665.5 634.2L670.2 635.4ZM667.8 644.9L663.0 643.6L662.2 646.6L667.1 647.8ZM650.5 714.4L644.4 712.9L643.6 715.8L649.8 717.4ZM667.9 626.4L663.5 625.2L662.6 628.1L667.1 629.4ZM665.3 636.3L660.7 635.0L659.8 638.0L664.5 639.3ZM664.0 641.2L659.2 639.9L658.4 642.9L663.2 644.2ZM661.3 651.1L656.4 649.8L655.6 652.7L660.5 654.1ZM665.2 620.3L660.8 619.0L658.4 626.9L662.9 628.2ZM661.9 616.7L657.6 615.3L655.8 620.7L660.2 622.1ZM658.1 628.9L653.6 627.5L652.7 630.4L657.2 631.8ZM657.9 615.4L653.6 614.0L652.6 616.9L656.9 618.3Z"/>
<path fill="#64bfdc" d="M703.3 661.5L698.2 660.9L697.2 669.0L702.4 669.6ZM700.4 645.7L695.5 645.1L695.1 648.1L700.0 648.7ZM698.8 658.4L693.7 657.7L693.3 660.8L698.4 661.4ZM697.6 668.6L692.3 667.9L691.9 670.9L697.2 671.6ZM698.7 624.8L694.3 624.2L693.0 632.2L697.6 632.9ZM693.7 660.3L688.6 659.6L688.1 662.6L693.3 663.3ZM688.4 698.3L682.6 697.5L682.1 700.5L688.0 701.4ZM686.6 711.0L680.6 710.1L680.1 713.1L686.2 714.1ZM683.1 736.4L676.6 735.4L676.1 738.4L682.7 739.4ZM682.4 741.4L675.8 740.5L674.9 746.0L681.6 747.0ZM696.9 609.0L692.8 608.3L692.3 611.4L696.5 612.1ZM694.9 621.7L690.6 620.9L689.6 626.5L694.1 627.2ZM692.1 639.4L687.4 638.6L686.9 641.6L691.7 642.4ZM691.3 644.4L686.5 643.6L685.6 649.2L690.5 650.0ZM683.0 697.5L677.2 696.6L676.6 699.6L682.5 700.6ZM681.0 710.2L674.9 709.2L674.4 712.2L680.5 713.2ZM679.4 720.3L673.2 719.3L672.6 722.3L678.9 723.3ZM677.4 732.9L670.9 731.9L670.4 734.9L676.9 736.0ZM676.2 740.5L669.6 739.4L669.1 742.4L675.7 743.5ZM675.4 745.6L668.7 744.5L668.2 747.5L674.9 748.6ZM667.4 796.2L659.8 794.9L656.6 813.0L664.5 814.4ZM664.2 816.4L656.2 815.0L655.7 818.1L663.7 819.4ZM663.4 821.4L655.3 820.1L654.8 823.1L662.9 824.5ZM693.5 605.9L689.4 605.1L688.8 608.1L693.0 608.9ZM692.6 610.9L688.4 610.1L687.9 613.1L692.1 613.9ZM690.4 623.5L686.0 622.7L684.4 630.7L689.0 631.6ZM688.2 636.1L683.5 635.3L683.0 638.3L687.7 639.1ZM687.3 641.2L682.6 640.3L682.0 643.3L686.8 644.2ZM685.5 651.2L680.6 650.3L679.0 658.4L684.1 659.3ZM683.8 661.3L678.6 660.4L677.6 665.9L682.8 666.9ZM675.3 709.2L669.3 708.1L667.8 716.2L673.9 717.3ZM662.9 779.8L655.6 778.5L654.5 784.0L662.0 785.4ZM661.2 789.9L653.7 788.5L653.1 791.5L660.6 792.9ZM655.8 820.2L647.8 818.7L647.2 821.7L655.3 823.2ZM689.2 607.7L685.1 606.8L683.9 612.3L688.1 613.2ZM684.3 632.8L679.7 631.9L679.1 634.9L683.7 635.8ZM679.9 655.4L674.9 654.4L674.3 657.4L679.4 658.4ZM679.0 660.4L673.9 659.4L673.2 662.4L678.4 663.5ZM664.8 733.3L658.4 732.0L656.7 740.0L663.3 741.4ZM661.0 753.4L654.1 752.1L653.0 757.5L659.9 759.0ZM659.0 763.5L652.0 762.1L650.3 770.1L657.4 771.5ZM655.1 783.6L647.7 782.1L646.0 790.1L653.6 791.6ZM652.2 798.7L644.5 797.1L643.9 800.1L651.6 801.7ZM650.2 808.7L642.4 807.1L641.7 810.1L649.7 811.7ZM680.0 631.9L675.5 630.9L674.8 633.9L679.4 634.9ZM657.7 737.1L651.2 735.7L650.5 738.7L657.1 740.1ZM656.7 742.1L650.1 740.7L648.8 746.1L655.5 747.6ZM654.6 752.1L647.8 750.6L647.1 753.6L653.9 755.1ZM651.4 767.2L644.3 765.6L643.0 771.1L650.2 772.7ZM682.1 603.5L678.1 602.6L676.7 608.0L680.8 609.0ZM675.2 633.5L670.6 632.4L666.8 647.8L671.6 648.9ZM671.2 650.9L666.3 649.8L665.5 652.7L670.5 653.9ZM647.6 753.2L640.8 751.6L638.8 759.5L645.8 761.2ZM679.5 597.7L675.6 596.7L674.8 599.6L678.8 600.6ZM670.3 634.9L665.7 633.7L662.9 644.1L667.7 645.4Z"/>
<path fill="#5fd3c0" d="M700.1 648.2L695.2 647.6L694.4 653.2L699.4 653.8ZM698.5 660.9L693.4 660.3L692.2 668.4L697.5 669.1ZM694.2 696.5L688.4 695.8L688.0 698.8L693.8 699.6ZM693.0 665.4L687.8 664.6L687.3 667.6L692.6 668.4ZM688.8 695.8L683.0 694.9L682.5 698.0L688.3 698.8ZM686.3 713.6L680.2 712.6L679.3 718.2L685.5 719.1ZM694.1 626.7L689.7 626.0L688.7 631.5L693.3 632.3ZM683.4 695.0L677.6 694.0L677.1 697.1L682.9 698.0ZM680.6 712.7L674.5 711.7L673.5 717.2L679.7 718.3ZM677.0 735.5L670.5 734.4L669.5 739.9L676.1 741.0ZM693.1 608.4L688.9 607.6L688.3 610.6L692.5 611.4ZM687.7 638.6L683.0 637.8L682.5 640.8L687.2 641.7ZM686.9 643.7L682.1 642.8L681.5 645.8L686.3 646.7ZM684.2 658.8L679.1 657.9L678.5 660.9L683.7 661.8ZM674.0 716.8L667.9 715.7L666.8 721.2L673.0 722.3ZM661.6 787.4L654.1 786.0L653.6 789.0L661.1 790.4ZM659.4 800.0L651.7 798.6L650.6 804.1L658.4 805.5ZM657.2 812.6L649.2 811.1L648.2 816.7L656.2 818.2ZM683.8 635.3L679.2 634.4L677.0 644.9L681.8 645.9ZM680.9 650.4L676.0 649.4L675.4 652.4L680.3 653.4ZM679.5 657.9L674.4 656.9L673.8 659.9L678.9 660.9ZM663.4 740.9L656.8 739.5L655.6 745.0L662.3 746.4ZM660.0 758.5L653.1 757.1L651.9 762.6L658.9 764.0ZM653.6 791.1L646.1 789.6L645.5 792.6L653.1 794.1ZM652.7 796.2L645.0 794.6L644.4 797.6L652.1 799.2ZM651.7 801.2L644.0 799.6L642.8 805.1L650.6 806.7ZM679.5 634.4L674.9 633.4L673.6 638.9L678.3 639.9ZM677.9 642.0L673.2 640.9L670.7 651.4L675.7 652.5ZM658.8 732.1L652.4 730.7L651.1 736.2L657.6 737.6ZM657.2 739.6L650.6 738.2L650.0 741.1L656.6 742.6ZM654.0 754.6L647.2 753.1L646.5 756.1L653.4 757.6ZM653.0 759.7L646.0 758.1L644.2 766.1L651.3 767.7Z"/>
<path fill="#3dd36b" d="M693.4 662.9L688.2 662.1L687.7 665.1L692.9 665.9ZM682.7 738.9L676.2 737.9L675.7 741.0L682.3 741.9ZM679.8 717.8L673.6 716.7L673.1 719.7L679.3 720.8ZM686.4 646.2L681.6 645.3L680.5 650.8L685.4 651.7ZM660.7 792.4L653.2 791.0L652.6 794.0L660.2 795.5ZM659.8 797.5L652.2 796.1L651.6 799.1L659.3 800.5ZM681.9 645.4L677.1 644.4L676.4 647.4L681.3 648.4ZM662.4 745.9L655.7 744.5L654.6 750.0L661.3 751.4ZM653.2 793.7L645.6 792.1L644.9 795.1L652.6 796.7ZM685.3 606.9L681.2 606.0L680.6 609.0L684.7 609.9ZM678.4 639.4L673.7 638.4L673.1 641.4L677.8 642.4ZM653.5 757.2L646.6 755.6L645.9 758.6L652.9 760.1ZM645.9 760.7L638.9 759.0L638.2 762.0L645.2 763.7Z"/>
<path fill="#12c81e" d="M660.3 795.0L652.7 793.6L652.1 796.6L659.7 798.0ZM658.5 805.1L650.7 803.6L650.1 806.6L658.0 808.1ZM657.6 810.1L649.7 808.6L649.1 811.6L657.1 813.1ZM689.7 605.2L685.6 604.3L685.0 607.3L689.1 608.2ZM681.4 647.9L676.5 646.9L675.9 649.9L680.8 650.9ZM645.3 763.2L638.3 761.5L637.6 764.5L644.6 766.2Z"/>
<path fill="#10b51b" d="M664.6 813.9L656.7 812.5L656.1 815.5L664.1 816.9ZM662.0 784.9L654.6 783.5L654.0 786.5L661.5 787.9ZM658.1 807.6L650.2 806.1L649.6 809.1L657.5 810.6ZM685.9 604.4L681.8 603.5L681.1 606.5L685.2 607.4Z"/>
<rect x="696.0" y="793.4" width="8.0" height="2.0" fill="#53689f"/>
<rect x="702.0" y="794.4" width="8.0" height="2.2" fill="#53689f"/>
<rect x="703.8" y="801.8" width="6.2" height="1.4" fill="#53689f"/>
<rect x="710.0" y="810.8" width="8.0" height="1.7" fill="#53689f"/>
<rect x="716.0" y="811.6" width="9.0" height="1.7" fill="#53689f"/>
<rect x="654.4" y="882.0" width="8.1" height="2.3" fill="#4360a2"/>
<rect x="662.5" y="882.8" width="8.5" height="4.7" fill="#4360a2"/>
<rect x="671.0" y="887.0" width="9.0" height="1.8" fill="#53689f"/>
<rect x="675.5" y="560.5" width="3.5" height="2.0" fill="#53689f"/>
<rect x="677.0" y="562.5" width="4.0" height="2.0" fill="#53689f"/>
<rect x="627.0" y="986.2" width="6.0" height="2.2" fill="#53689f"/>
<rect x="632.0" y="986.8" width="5.4" height="2.4" fill="#53689f"/>
<rect x="637.4" y="989.0" width="10.6" height="2.2" fill="#4360a2"/>
<rect x="647.4" y="990.0" width="11.2" height="2.0" fill="#4b7ab3"/>
<rect x="647.4" y="992.0" width="10.6" height="5.4" fill="#4b7ab3"/>
<rect x="637.0" y="994.3" width="10.4" height="5.7" fill="#4360a2"/>
<rect x="636.2" y="1000.0" width="11.2" height="4.3" fill="#4360a2"/>
<rect x="646.8" y="996.8" width="11.2" height="5.2" fill="#589dc8"/>
<rect x="646.8" y="1002.0" width="11.2" height="3.6" fill="#4b7ab3"/>
<rect x="657.4" y="994.3" width="11.2" height="12.5" fill="#5fd3c0"/>
<rect x="659.9" y="996.2" width="6.2" height="1.8" fill="#3dd36b"/>
<rect x="668.0" y="997.2" width="10.9" height="4.8" fill="#64bfdc"/>
<rect x="668.0" y="1002.0" width="10.9" height="1.7" fill="#589dc8"/>
<rect x="621.0" y="1021.0" width="11.0" height="3.0" fill="#53689f"/>
<rect x="620.6" y="1023.0" width="22.4" height="3.0" fill="#4360a2"/>
<rect x="632.0" y="1021.8" width="22.3" height="3.1" fill="#4360a2"/>
<rect x="626.2" y="1025.5" width="23.7" height="2.9" fill="#4360a2"/>
<rect x="642.4" y="1024.9" width="12.5" height="4.1" fill="#4b7ab3"/>
<rect x="642.4" y="1029.0" width="12.5" height="3.4" fill="#4b7ab3"/>
<rect x="653.6" y="1026.1" width="11.3" height="6.3" fill="#64bfdc"/>
<rect x="642.4" y="1032.4" width="11.2" height="3.2" fill="#4360a2"/>
<rect x="653.6" y="1032.4" width="22.5" height="4.0" fill="#4360a2"/>
<rect x="641.2" y="1042.1" width="5.3" height="1.5" fill="#5fd3c0"/>
<rect x="645.5" y="1043.0" width="6.3" height="1.6" fill="#5fd3c0"/>
</g>
<g stroke="#808080" stroke-opacity="0.45" stroke-width="0.7" stroke-dasharray="2.57 1.11" fill="none">
<path d="M159.6,1046.5 V45.5"/>
<path d="M344.6,1046.5 V45.5"/>
<path d="M529.5,1046.5 V45.5"/>
<path d="M714.5,1046.5 V45.5"/>
<path d="M899.7,1046.5 V45.5"/>
<path d="M85.5,161.4 H1010.5"/>
<path d="M85.5,306.3 H1010.5"/>
<path d="M85.5,450.5 H1010.5"/>
<path d="M85.5,593.3 H1010.5"/>
<path d="M85.5,735.5 H1010.5"/>
<path d="M85.5,877.5 H1010.5"/>
<path d="M85.5,1018.3 H1010.5"/>
</g>
<g fill="none" stroke="#000" stroke-width="3.2" stroke-linejoin="round" stroke-linecap="round">
<path d="M578.5,45.5 582.5,53.8 587.5,60.0 591.2,68.8 595.0,75.0 591.2,77.5 596.2,83.8 595.0,88.0 600.0,83.8 610.0,85.0 616.2,87.5 626.2,86.2 629.2,90.0 627.5,96.2 622.5,101.2 621.2,106.2 616.2,109.5 612.5,108.8 610.0,113.8 605.0,117.5 602.5,122.0 597.5,124.2 593.8,128.2 595.0,137.5 602.5,142.0 598.8,145.0 600.0,148.8 606.2,150.0 610.0,157.5 612.5,164.2 617.5,161.2 622.5,159.5 625.0,162.0 628.8,158.8 633.8,160.0 636.2,162.5 643.8,160.0 650.0,165.0 658.8,168.8 655.0,171.2 655.0,177.5 655.5,183.8 661.2,187.0 667.0,187.0 668.8,192.5 668.8,200.0 665.5,208.8 665.5,215.0 661.2,222.5 656.2,231.2 662.5,236.2 666.2,243.8 675.0,250.0 680.0,257.5 679.5,263.0 671.2,264.5 667.5,268.8 662.5,270.0 663.8,273.8 660.0,270.0 656.2,266.2 651.2,262.5 646.2,265.5 643.0,265.0 642.0,270.5 638.8,273.8 638.0,278.8 635.5,281.2 635.5,286.2 637.5,289.5 634.5,294.5 631.2,296.8 625.0,296.2 617.5,298.8 607.5,302.5 604.5,306.2 602.0,313.0 594.5,314.5 593.0,320.0 590.5,322.5 595.0,324.6 597.5,329.2 598.3,335.0 598.3,340.8 600.8,345.0 597.5,346.7 590.8,346.7 587.9,350.4 583.3,347.5 581.7,351.7 580.4,353.3 583.8,356.7 582.5,360.0"/>
<path d="M576.7,360.8 583.3,361.7 585.8,363.3 587.1,367.9 583.3,371.7 577.5,372.5 572.1,370.4 575.8,361.2 576.7,360.8"/>
<path d="M576.7,361.0 583.0,365.8"/>
<path d="M575.0,360.0 573.3,355.0 566.7,351.0 559.0,350.4 558.3,357.9 556.7,359.3 551.7,359.2 545.0,356.7 540.0,353.3 538.2,345.5 526.2,348.2 517.5,351.2 511.8,372.5 493.8,385.0 488.0,404.5 481.2,407.5 477.0,413.8 477.0,426.2 473.8,436.2 466.2,441.2 465.0,447.5 471.2,457.5 467.5,465.0 461.2,466.2 459.2,471.2 453.8,472.5 447.5,473.8 446.2,485.0 440.0,500.0 436.2,502.0 433.8,506.2 437.5,510.5 451.2,517.5 450.0,521.2 446.2,523.8 439.2,525.0 437.5,532.5 435.8,537.5 435.0,543.8 436.2,551.2 438.8,560.0 439.5,566.2 448.8,566.8 453.8,572.5 461.2,587.5 466.2,597.5 467.5,606.2 477.5,605.8 482.5,608.8 488.8,616.2 483.8,621.2 482.0,627.5 485.0,633.8 496.2,640.0 495.5,655.0 486.2,656.2 483.8,667.5 480.0,676.2 474.5,682.8 482.5,686.0 482.9,691.5 478.5,696.0 473.2,701.3 467.9,705.6 465.2,705.2 461.3,708.6 459.6,710.5"/>
<path d="M85.5,474.5 102.0,479.2 107.5,488.0 113.8,493.8 116.8,501.2 115.5,508.8 107.5,525.5 104.2,529.2 106.2,539.5 110.0,542.5 112.5,553.8 105.5,568.0 107.5,570.5 111.2,568.8 117.5,571.2 125.0,572.5 131.2,570.5 135.0,571.8 138.8,568.8 140.0,565.8 143.0,564.2 156.2,564.2 160.0,567.5 165.0,576.2 177.5,582.0 185.0,586.2 192.5,584.5 195.0,587.5 205.5,606.2 204.5,611.8 212.0,616.2 215.0,611.8 218.0,612.0 220.5,615.0 220.8,625.8 230.0,625.0 236.2,625.5 238.0,627.5 245.0,627.0 250.5,628.8 258.0,623.2 262.5,627.0 264.5,631.2 277.5,642.5 282.5,648.2 277.5,651.2 271.8,661.8 275.0,671.8 285.5,668.0 287.5,661.2 305.0,669.2 318.8,683.0 322.5,696.2 327.5,698.0 325.0,703.8 322.5,706.2 331.8,716.2 330.5,721.2 324.5,725.5 330.0,730.0 331.2,735.0 333.8,737.5 339.5,731.8 346.2,732.0 357.5,728.0 361.2,724.5 364.5,719.5 370.0,719.5 378.8,723.2 385.0,732.5 388.8,725.0 388.0,718.0 393.8,712.5 397.5,707.5 403.8,705.5 407.5,708.0 413.8,709.5 418.8,713.0 425.0,712.5 429.5,710.5 433.8,713.2 439.5,711.2 440.0,702.0 445.0,699.8 453.8,705.5 460.0,707.5 460.0,710.0"/>
<path d="M85.5,363.0 93.8,353.2 96.2,360.5 113.0,361.8 116.2,368.8 121.2,370.0 113.8,376.2 111.2,382.5 112.0,395.5 110.0,398.0 106.2,392.5 102.5,392.5 100.0,397.0 102.0,401.2 100.5,410.0 93.0,412.5 96.2,417.5 96.2,422.5 100.5,426.2 93.0,436.2 91.2,452.5 88.8,458.0 85.5,460.0"/>
<path d="M460.0,710.0 462.5,713.8 468.0,711.8 471.2,718.0 468.0,720.0 468.4,724.5 473.0,729.0 478.5,734.0 484.0,736.0 489.5,737.2 496.2,734.5 502.5,735.8 508.8,735.8 517.5,741.2 519.5,751.2 522.5,758.8 521.8,763.0 527.5,760.5 537.5,762.0 543.8,765.0 547.5,760.0 550.8,754.5 555.0,754.5 561.2,759.5 566.2,762.0 567.0,752.5 573.8,748.8 577.5,740.5 582.5,741.2 587.0,738.8 588.0,733.0 593.8,730.5 608.8,731.2 611.2,729.5 616.2,730.5 620.0,728.8 630.0,733.0 633.8,738.8 638.8,745.0 647.5,750.0 653.8,753.8 660.0,753.0 665.0,757.5"/>
<path d="M665.0,757.5 672.5,755.0 681.2,752.5 686.2,748.8 690.0,752.0 697.5,756.2 702.0,755.0 708.8,762.5 715.0,765.0 723.8,772.0 728.8,773.0 735.0,780.0 730.5,783.0 728.0,787.0 731.2,793.8 737.5,798.0 742.5,798.8 747.0,801.2 747.0,807.5 751.2,810.0 751.2,814.5 747.5,820.0 744.5,816.2 738.8,816.2 737.5,820.0 743.0,828.8 748.8,828.0 750.0,832.5 747.0,836.2 757.0,846.2 762.5,849.5 772.5,858.8 777.0,859.2 777.0,866.2 773.8,872.0 778.8,873.8 784.5,877.5 783.0,882.5 785.0,891.2 787.5,896.2 796.2,893.0 799.5,902.5 792.5,912.5 796.2,920.0 802.5,926.2 811.2,924.5 818.8,923.0 827.5,927.5 837.5,933.2 842.5,930.0 842.0,921.2 847.5,917.5 846.2,910.5 843.0,903.8 838.8,898.0 846.2,892.0 852.5,896.2 860.0,899.5 866.2,896.2 870.0,892.0 876.2,892.0 880.0,897.5 884.4,903.1 889.4,899.4 895.0,903.8 899.4,908.1 902.5,908.8 903.1,911.9 906.2,909.4 912.5,910.0 911.9,916.2 909.4,920.0 911.2,926.2 910.6,929.4 914.4,936.2 916.2,940.6 915.2,950.0 917.5,953.8 920.6,955.0 923.8,953.8 925.0,949.4 927.5,946.9 932.5,944.4 931.9,941.2 930.0,937.5 929.4,931.9 931.2,931.2 933.8,931.2 936.9,929.4 941.2,931.9 940.0,934.4 936.9,935.6 937.5,940.0 942.5,938.1 946.2,938.1 948.1,943.8 951.2,946.2 955.6,948.1 958.1,950.0 959.4,945.6 963.8,945.0 967.5,943.8 970.6,947.5 972.5,952.5 975.0,948.1 982.5,946.9 989.4,944.4 996.2,948.1 1003.1,948.1 1004.4,951.9 1008.1,952.5 1010.6,950.6"/>
<path d="M580.8,373.3 580.0,378.3 576.7,380.8 579.2,384.6 577.9,386.7 579.6,390.0 575.8,392.5 577.9,395.8 573.3,397.5 573.8,402.1 577.0,407.5 573.8,410.0 570.8,415.0 575.0,417.5 576.2,422.5 578.8,426.2 578.8,433.8 583.8,437.0 578.0,440.0 582.0,443.8 585.0,445.0 581.2,450.0 583.8,453.8 587.5,457.0 593.0,458.2 591.2,465.0 593.8,472.5 595.0,476.2 597.5,467.5 600.0,468.8 599.5,475.0 603.8,478.8 606.2,476.2 611.2,478.8 613.0,486.2 610.0,493.8 615.0,497.5 615.0,505.0 618.8,511.2 626.2,517.5 632.5,519.4 636.2,521.9 638.8,526.2 643.1,523.8 645.6,525.6 646.9,531.9 648.1,534.4 647.5,541.2 650.6,543.1 653.5,541.2 654.4,536.9 657.5,535.4 664.4,535.4 670.0,543.1 676.2,551.2 681.2,553.8 686.2,555.0 688.1,558.1 691.9,556.2 697.5,557.5 700.0,554.8 703.7,550.7 706.7,552.6 708.1,555.9 710.0,557.4 713.0,557.0 716.3,558.9 717.0,562.2 718.5,563.7 720.0,562.2 720.7,557.8 722.2,555.9 725.2,557.8 725.9,561.1 723.0,565.2 721.1,566.7 717.4,568.5 715.9,570.4 717.8,571.9 720.7,573.7 720.7,575.6 718.1,578.1 718.5,580.0 720.0,581.2 721.9,585.0 720.0,588.1 715.0,590.0 714.4,595.0 715.6,603.8 716.2,607.5 716.9,613.1 711.2,618.1 706.2,623.1 700.0,625.6 696.2,630.0 692.5,635.0 688.0,638.8 686.9,641.9 691.9,643.8 691.9,648.0 688.0,657.5 685.0,666.2 681.7,670.0 678.3,675.0 671.7,678.3 667.9,682.5 667.7,685.8 670.7,689.0 665.4,690.2 661.5,692.9 662.3,695.8 668.3,700.4 670.7,702.9 669.2,706.7 662.7,715.0 661.7,720.0 663.8,731.7 664.8,745.0 665.2,757.5"/>
</g>
<circle cx="595.0" cy="87.5" r="2.0" fill="#000"/>
<circle cx="716.6" cy="607.3" r="2.6" fill="#000"/>
<circle cx="732" cy="386.7" r="5.0" fill="#ff0000" stroke="#000" stroke-width="0.9"/>
</g>
<rect x="85.5" y="45.5" width="925.0" height="1001.0" fill="none" stroke="#000" stroke-width="1.05"/>
<rect x="97.5" y="57.5" width="218" height="50" fill="#fff" stroke="#000" stroke-width="1.05"/>
<text opacity="0.999" x="102.7" y="76.6" font-size="17.75" text-anchor="start" textLength="68.8" lengthAdjust="spacingAndGlyphs">Product:</text>
<text opacity="0.999" x="177.6" y="76.6" font-size="17.75" text-anchor="start" textLength="33.4" lengthAdjust="spacingAndGlyphs">0.5°</text>
<text opacity="0.999" x="216.7" y="76.6" font-size="17.75" text-anchor="start" textLength="92.3" lengthAdjust="spacingAndGlyphs">Reflectivity</text>
<text opacity="0.999" x="102.7" y="96.4" font-size="17.75" text-anchor="start" textLength="46.0" lengthAdjust="spacingAndGlyphs">Data:</text>
<text opacity="0.999" x="153.8" y="96.4" font-size="17.75" text-anchor="start" textLength="41.8" lengthAdjust="spacingAndGlyphs">DWD</text>
<text opacity="0.999" x="351.7" y="37.8" font-size="37.00" text-anchor="start" textLength="198.9" lengthAdjust="spacingAndGlyphs">17.01.2026</text>
<text opacity="0.999" x="562.1" y="37.8" font-size="37.00" text-anchor="start" textLength="99.2" lengthAdjust="spacingAndGlyphs">04:18</text>
<text opacity="0.999" x="672.9" y="37.8" font-size="37.00" text-anchor="start" textLength="69.5" lengthAdjust="spacingAndGlyphs">UTC</text>
<text opacity="0.999" x="21.1" y="166.7" font-size="17.75" text-anchor="start" textLength="56.9" lengthAdjust="spacingAndGlyphs">50.5°N</text>
<text opacity="0.999" x="10.1" y="310.9" font-size="17.75" text-anchor="start" textLength="67.9" lengthAdjust="spacingAndGlyphs">50.25°N</text>
<text opacity="0.999" x="37.2" y="454.9" font-size="17.75" text-anchor="start" textLength="40.8" lengthAdjust="spacingAndGlyphs">50°N</text>
<text opacity="0.999" x="10.4" y="598.1" font-size="17.75" text-anchor="start" textLength="67.6" lengthAdjust="spacingAndGlyphs">49.75°N</text>
<text opacity="0.999" x="21.4" y="740.3" font-size="17.75" text-anchor="start" textLength="56.6" lengthAdjust="spacingAndGlyphs">49.5°N</text>
<text opacity="0.999" x="10.4" y="882.3" font-size="17.75" text-anchor="start" textLength="67.6" lengthAdjust="spacingAndGlyphs">49.25°N</text>
<text opacity="0.999" x="37.5" y="1023.1" font-size="17.75" text-anchor="start" textLength="40.4" lengthAdjust="spacingAndGlyphs">49°N</text>
<text opacity="0.999" x="145.6" y="1067.0" font-size="17.75" text-anchor="start" textLength="27.6" lengthAdjust="spacingAndGlyphs">5°E</text>
<text opacity="0.999" x="322.4" y="1067.0" font-size="17.75" text-anchor="start" textLength="44.0" lengthAdjust="spacingAndGlyphs">5.5°E</text>
<text opacity="0.999" x="515.3" y="1067.0" font-size="17.75" text-anchor="start" textLength="27.8" lengthAdjust="spacingAndGlyphs">6°E</text>
<text opacity="0.999" x="692.2" y="1067.0" font-size="17.75" text-anchor="start" textLength="44.2" lengthAdjust="spacingAndGlyphs">6.5°E</text>
<text opacity="0.999" x="885.5" y="1067.0" font-size="17.75" text-anchor="start" textLength="27.8" lengthAdjust="spacingAndGlyphs">7°E</text>
<g shape-rendering="crispEdges">
<rect x="1068.5" y="95.50" width="45.0" height="32.68" fill="#e830ee"/>
<rect x="1068.5" y="127.68" width="45.0" height="32.68" fill="#ff66ff"/>
<rect x="1068.5" y="159.86" width="45.0" height="32.68" fill="#ffaaff"/>
<rect x="1068.5" y="192.04" width="45.0" height="32.68" fill="#ffddff"/>
<rect x="1068.5" y="224.21" width="45.0" height="32.68" fill="#7a0000"/>
<rect x="1068.5" y="256.39" width="45.0" height="32.68" fill="#9d0000"/>
<rect x="1068.5" y="288.57" width="45.0" height="32.68" fill="#c10000"/>
<rect x="1068.5" y="320.75" width="45.0" height="32.68" fill="#e40000"/>
<rect x="1068.5" y="352.93" width="45.0" height="32.68" fill="#ff7f00"/>
<rect x="1068.5" y="385.11" width="45.0" height="32.68" fill="#ff9b00"/>
<rect x="1068.5" y="417.29" width="45.0" height="32.68" fill="#ffb800"/>
<rect x="1068.5" y="449.46" width="45.0" height="32.68" fill="#ffd700"/>
<rect x="1068.5" y="481.64" width="45.0" height="32.68" fill="#b0b408"/>
<rect x="1068.5" y="513.82" width="45.0" height="32.68" fill="#457a08"/>
<rect x="1068.5" y="546.00" width="45.0" height="32.68" fill="#085d0b"/>
<rect x="1068.5" y="578.18" width="45.0" height="32.68" fill="#0a7510"/>
<rect x="1068.5" y="610.36" width="45.0" height="32.68" fill="#0d8b14"/>
<rect x="1068.5" y="642.54" width="45.0" height="32.68" fill="#0fa218"/>
<rect x="1068.5" y="674.71" width="45.0" height="32.68" fill="#10b51b"/>
<rect x="1068.5" y="706.89" width="45.0" height="32.68" fill="#12c81e"/>
<rect x="1068.5" y="739.07" width="45.0" height="32.68" fill="#3dd36b"/>
<rect x="1068.5" y="771.25" width="45.0" height="32.68" fill="#5fd3c0"/>
<rect x="1068.5" y="803.43" width="45.0" height="32.68" fill="#64bfdc"/>
<rect x="1068.5" y="835.61" width="45.0" height="32.68" fill="#589dc8"/>
<rect x="1068.5" y="867.79" width="45.0" height="32.68" fill="#4b7ab3"/>
<rect x="1068.5" y="899.96" width="45.0" height="32.68" fill="#4360a2"/>
<rect x="1068.5" y="932.14" width="45.0" height="32.68" fill="#53689f"/>
<rect x="1068.5" y="964.32" width="45.0" height="32.68" fill="#6675a8"/>
</g>
<rect x="1068.5" y="95.5" width="45.0" height="901.0" fill="none" stroke="#000" stroke-width="1.05"/>
<path d="M1113.5,95.5 h5.2" stroke="#000" stroke-width="1.05"/>
<text opacity="0.999" x="1123.2" y="105.7" font-size="29.60" text-anchor="start" textLength="34.1" lengthAdjust="spacingAndGlyphs">70</text>
<path d="M1113.5,224.5 h5.2" stroke="#000" stroke-width="1.05"/>
<text opacity="0.999" x="1123.2" y="234.4" font-size="29.60" text-anchor="start" textLength="34.1" lengthAdjust="spacingAndGlyphs">60</text>
<path d="M1113.5,352.5 h5.2" stroke="#000" stroke-width="1.05"/>
<text opacity="0.999" x="1123.5" y="363.1" font-size="29.60" text-anchor="start" textLength="33.7" lengthAdjust="spacingAndGlyphs">50</text>
<path d="M1113.5,481.5 h5.2" stroke="#000" stroke-width="1.05"/>
<text opacity="0.999" x="1124.0" y="491.8" font-size="29.60" text-anchor="start" textLength="33.2" lengthAdjust="spacingAndGlyphs">40</text>
<path d="M1113.5,610.5 h5.2" stroke="#000" stroke-width="1.05"/>
<text opacity="0.999" x="1123.6" y="620.6" font-size="29.60" text-anchor="start" textLength="33.6" lengthAdjust="spacingAndGlyphs">30</text>
<path d="M1113.5,739.5 h5.2" stroke="#000" stroke-width="1.05"/>
<text opacity="0.999" x="1123.2" y="749.3" font-size="29.60" text-anchor="start" textLength="34.1" lengthAdjust="spacingAndGlyphs">20</text>
<path d="M1113.5,867.5 h5.2" stroke="#000" stroke-width="1.05"/>
<text opacity="0.999" x="1122.3" y="878.0" font-size="29.60" text-anchor="start" textLength="34.9" lengthAdjust="spacingAndGlyphs">10</text>
<path d="M1113.5,996.5 h5.2" stroke="#000" stroke-width="1.05"/>
<text opacity="0.999" x="1124.8" y="1006.7" font-size="29.60" text-anchor="start" textLength="16.2" lengthAdjust="spacingAndGlyphs">0</text>
<text opacity="0.999" transform="translate(1187.2,548.5) rotate(-90)" font-size="29.6" text-anchor="middle" textLength="55.7" lengthAdjust="spacingAndGlyphs">dBZ</text>
</svg></body></html>
